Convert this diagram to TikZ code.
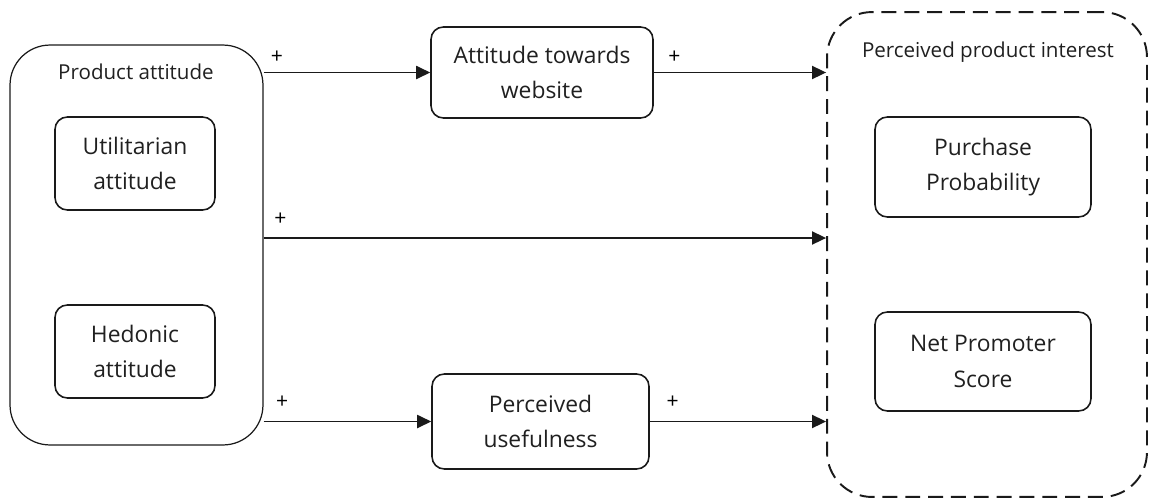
\documentclass[tikz,border=0pt]{standalone}
\usepackage{fontspec}
\setmainfont{Open Sans}
\usetikzlibrary{arrows.meta,positioning,calc}
\definecolor{ModelLine}{HTML}{1A1A1A}
\definecolor{ModelTxt}{HTML}{202020}

\begin{document}
\begin{tikzpicture}[
            x=0.02cm, y=-0.02cm,
            font=\fontsize{13}{20}\selectfont,
            >={Triangle[length=8pt,width=7.5pt]},
            group/.style={
                    draw=ModelLine,
                    line width=0.7pt,
                    rounded corners=0.8cm,
                    inner sep=0pt
                },
            outcome/.style={
                    group,
                    line width=1.1pt,
                    dash pattern=on 8.5pt off 4.5pt,
                    rounded corners=0.9cm
                },
            box/.style={
                    draw=ModelLine,
                    line width=0.9pt,
                    rounded corners=7pt,
                    align=center,
                    text=ModelTxt,
                    inner sep=2pt
                },
            glabel/.style={font=\fontsize{11.7}{14}\selectfont, text=ModelTxt},
            arrow/.style={->, line width=0.8pt, draw=ModelLine},
            plus/.style={font=\fontsize{12}{14}\selectfont, inner sep=1pt},
        ]
        \useasboundingbox (0,0) rectangle (1149,501);

        % Groups
        \node[group, minimum width=5.06cm, minimum height=8cm] (pa) at (136.5,245) {};
        \node[glabel] (palbl) at (136,72) {Product attitude};

        \node[outcome, minimum width=6.4cm, minimum height=9.7cm] (ppi) at (987,254.5) {};
        \node[glabel] (ppilbl) at (988,52) {Perceived product interest};

        % Boxes
        \node[box, minimum width=3.2cm, minimum height=1.86cm] (ua) at (135,163.5) {Utilitarian\\attitude};
        \node[box, minimum width=3.2cm, minimum height=1.86cm] (ha) at (135,351.5) {Hedonic\\attitude};
        \node[box, minimum width=4.44cm, minimum height=1.82cm] (web) at (542,72.5) {Attitude towards\\website};
        \node[box, minimum width=4.34cm, minimum height=1.9cm] (use) at (540.5,421.5) {Perceived\\usefulness};
        \node[box, minimum width=4.32cm, minimum height=2cm] (pp) at (983,167) {Purchase\\Probability};
        \node[box, minimum width=4.32cm, minimum height=1.98cm] (nps) at (983,361.5) {Net Promoter\\Score};

        % Arrows
        \draw[arrow] (pa.east |- web.west) -- (web.west)
        node[plus, pos=0.08, above=4pt] {+};
        \draw[arrow] (web.east) -- (web.east -| ppi.west)
        node[plus, pos=0.12, above=4pt] {+};
        \draw[arrow] ([yshift=0.14cm]pa.east) -- ([yshift=0.14cm]pa.east -| ppi.west)
        node[plus, pos=0.03, above=6pt] {+};
        \draw[arrow] (pa.east |- use.west) -- (use.west)
        node[plus, pos=0.11, above=6pt] {+};
        \draw[arrow] (use.east) -- (use.east -| ppi.west)
        node[plus, pos=0.13, above=6pt] {+};

    \end{tikzpicture}
\end{document}
